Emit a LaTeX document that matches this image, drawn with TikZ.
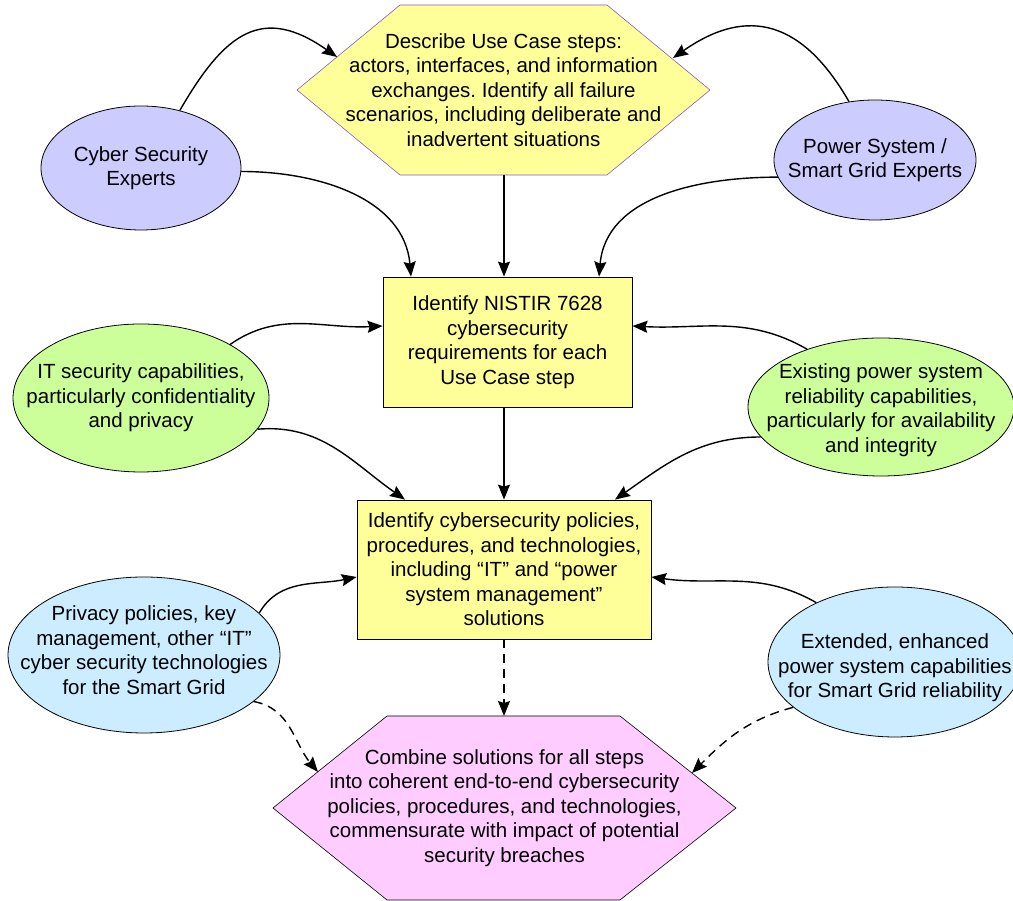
\documentclass[tikz,border=0pt]{standalone}
\usepackage{fontspec}
\setmainfont{Liberation Sans}
\frenchspacing
\usetikzlibrary{shapes.geometric,arrows.meta,calc}

\definecolor{stepyellow}{HTML}{FFFF99}
\definecolor{expertblue}{HTML}{CCCCFF}
\definecolor{capgreen}{HTML}{CCFF99}
\definecolor{techblue}{HTML}{CCECFF}
\definecolor{combpink}{HTML}{FFCCFF}
\definecolor{hexpurple}{RGB}{128,96,192}

\begin{document}
\begin{tikzpicture}[x=1pt,y=1pt,
	every node/.style={align=center,font=\fontsize{20.5}{24.5}\selectfont},
	expert/.style={draw,ellipse,inner sep=0pt,line width=0.8pt},
	stepbox/.style={draw,rectangle,fill=stepyellow,inner sep=0pt,line width=0.8pt},
	link/.style={line width=1.4pt,-{Stealth[length=15pt,width=12pt,inset=2pt]}},
	dashlink/.style={link,dash pattern=on 9pt off 6pt}]

	%\draw[help lines,step=50] (0,0) grid (1013,901);
	\useasboundingbox (0,0) rectangle (1013,901);

	% top hexagon
	\draw[fill=stepyellow,draw=hexpurple,line width=0.6pt]
		(297,811) -- (400,896) -- (607,896) -- (710,811) -- (607,726) -- (400,726) -- cycle;
	\node (desc) at (503.5,811) {Describe Use Case steps:\\ actors, interfaces, and information\\ exchanges. Identify all failure\\ scenarios, including deliberate and\\ inadvertent situations};
	\coordinate (descUL) at (337,844);
	\coordinate (descUR) at (673,843);
	\coordinate (descB) at (504,726);

	% bottom hexagon
	\draw[fill=combpink,line width=0.6pt]
		(273,93) -- (387,185) -- (620,185) -- (736,93) -- (620,1) -- (387,1) -- cycle;
	\node (comb) at (504.5,93) {Combine solutions for all steps\\ into coherent end-to-end cybersecurity\\ policies, procedures, and technologies,\\ commensurate with impact of potential\\ security breaches};
	\coordinate (combL) at (318,129);
	\coordinate (combR) at (692,128);
	\coordinate (combT) at (504,185);

	% experts
	\node[expert,fill=expertblue,minimum width=200,minimum height=124] (cyber) at (141,733) {};
	\node (cyber-t) at (cyber) {Cyber Security\\ Experts};
	\node[expert,fill=expertblue,minimum width=202,minimum height=120] (power) at (875,741) {};
	\node (power-t) at (power) {Power System /\\ Smart Grid Experts};

	% capabilities
	\node[expert,fill=capgreen,minimum width=256,minimum height=148] (itcap) at (141,503) {};
	\node (itcap-t) at (itcap) {IT security capabilities,\\ particularly confidentiality\\ and privacy};
	\node[expert,fill=capgreen,minimum width=266,minimum height=138] (pwcap) at (881,494) {};
	\node (pwcap-t) at ([yshift=-3pt]pwcap) {Existing power system\\ reliability capabilities,\\ particularly for availability\\ and integrity};

	% technologies
	\node[expert,fill=techblue,minimum width=272,minimum height=156] (ittech) at (144,246) {};
	\node (ittech-t) at ([yshift=5pt]ittech) {Privacy policies, key\\ management, other \textquotedblleft IT\textquotedblright\\ cyber security technologies\\ for the Smart Grid};
	\node[expert,fill=techblue,minimum width=254,minimum height=150] (pwtech) at (895,239) {};
	\node (pwtech-t) at ([yshift=-6pt]pwtech) {Extended, enhanced\\ power system capabilities\\ for Smart Grid reliability};

	% steps
	\node[stepbox,minimum width=249,minimum height=130] (req) at (507.5,559) {Identify NISTIR 7628\\ cybersecurity\\ requirements for each\\ Use Case step};
	\node[stepbox,minimum width=294,minimum height=139] (pol) at (504,331.5) {Identify cybersecurity policies,\\ procedures, and technologies,\\ including \textquotedblleft IT\textquotedblright{} and \textquotedblleft power\\ system management\textquotedblright\\ solutions};

	% connectors
	\draw[link] (cyber.56) to[out=60,in=145,looseness=1.4] (descUL);
	\draw[link] (power.114) to[out=120,in=35,looseness=1.3] (descUR);
	\draw[link] (descB) -- ([xshift=-3.5pt]req.north);
	\draw[link] (cyber.-2) to[out=0,in=95] ([xshift=-96.5pt]req.north);
	\draw[link] (power.190) to[out=180,in=85] ([xshift=91.5pt]req.north);

	\draw[link] (itcap.31) to[out=35,in=183] ([yshift=16pt]req.west);
	\draw[link] (pwcap.142) to[out=150,in=-3] ([yshift=16pt]req.east);
	\draw[link] ([xshift=-3.5pt]req.south) -- (pol.north);
	\draw[link] (itcap.-15) to[out=5,in=145] ([xshift=-99pt]pol.north);
	\draw[link] (pwcap.194) to[out=180,in=35] ([xshift=111pt]pol.north);

	\draw[link] (ittech.20) to[out=60,in=192] ([yshift=-7.5pt]pol.west);
	\draw[link] (pwtech.143) to[out=150,in=-8] ([yshift=-7.5pt]pol.east);
	\draw[dashlink] (pol.south) -- (combT);
	\draw[dashlink] (ittech.-23) to[out=-10,in=130] (combL);
	\draw[dashlink] (pwtech.204) to[out=195,in=45] (combR);

\end{tikzpicture}
\end{document}
